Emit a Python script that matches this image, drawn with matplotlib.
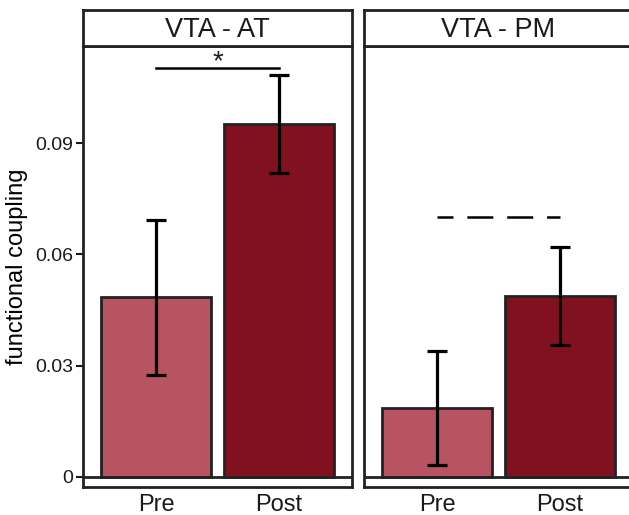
import matplotlib
matplotlib.use("Agg")
import matplotlib.pyplot as plt

plt.rcParams['font.family'] = ['Liberation Sans', 'DejaVu Sans']
plt.rcParams['lines.scale_dashes'] = False

panels = ["VTA - AT", "VTA - PM"]
conditions = ["Pre", "Post"]
means = {"VTA - AT": [0.0484, 0.0952], "VTA - PM": [0.0186, 0.0487]}
err_low = {"VTA - AT": [0.0275, 0.0820], "VTA - PM": [0.0032, 0.0355]}
err_high = {"VTA - AT": [0.0692, 0.1085], "VTA - PM": [0.0340, 0.0619]}
sig_y = {"VTA - AT": 0.1103, "VTA - PM": 0.0700}
sig_label = {"VTA - AT": "*", "VTA - PM": ""}
sig_style = {"VTA - AT": "solid", "VTA - PM": "dashed"}
yticks = [0, 0.03, 0.06, 0.09]
ytick_labels = ["0", "0.03", "0.06", "0.09"]
colors = ["#B85462", "#821120"]

W, H = 629, 515
fig = plt.figure(figsize=(W / 100, H / 100), dpi=100)

panel_lefts = [83, 364]
pw = 269
ptop, pbot = 46, 487
stop = 10
edge = "#222222"

for i, name in enumerate(panels):
    left = panel_lefts[i]
    ax = fig.add_axes([left / W, 1 - pbot / H, pw / W, (pbot - ptop) / H])
    sax = fig.add_axes([left / W, 1 - ptop / H, pw / W, (ptop - stop) / H])
    x = [1, 2]
    m = means[name]
    ax.bar(x, m, width=0.9, color=colors, edgecolor=edge, linewidth=2, zorder=2)
    ax.axhline(0, color=edge, linewidth=2, zorder=3)
    for xi, mi, lo, hi in zip(x, m, err_low[name], err_high[name]):
        ax.errorbar([xi], [mi], yerr=[[mi - lo], [hi - mi]], fmt='none',
                    ecolor='black', elinewidth=2.3, capsize=7.5, capthick=2.3, zorder=4)
    if sig_style[name] == "solid":
        ax.plot([1, 2], [sig_y[name]] * 2, color='black', linewidth=1.8, zorder=4)
    else:
        ax.plot([1, 2], [sig_y[name]] * 2, color='black', linewidth=1.8, zorder=4,
                linestyle=(7.2, (18.7, 10.0)), dash_capstyle='butt')
    if sig_label[name]:
        ax.text(1.5, sig_y[name] - 0.0003, sig_label[name], ha='center', va='baseline',
                fontsize=20, color='#1a1a1a')
    ax.set_xlim(0.4, 2.6)
    ax.set_ylim(-0.0027, 0.1162)
    ax.set_xticks(x)
    ax.set_xticklabels(conditions, fontsize=17)
    ax.tick_params(axis='x', length=0, pad=5, colors='#1a1a1a', labelcolor='#1a1a1a')
    if i == 0:
        ax.set_yticks(yticks)
        ax.set_yticklabels(ytick_labels, fontsize=14)
        ax.tick_params(axis='y', length=5, width=1.5, pad=2, color='#1a1a1a',
                       labelcolor='#1a1a1a')
        ax.set_ylabel("functional coupling", fontsize=17, labelpad=5)
    else:
        ax.set_yticks([])
    for s in ax.spines.values():
        s.set_linewidth(2)
        s.set_color(edge)
    sax.set_xticks([])
    sax.set_yticks([])
    for s in sax.spines.values():
        s.set_linewidth(2)
        s.set_color(edge)
    sax.text(0.5, 0.45, name, ha='center', va='center', fontsize=19.5,
             transform=sax.transAxes, color='#1a1a1a')

fig.savefig("out.png", dpi=100)
